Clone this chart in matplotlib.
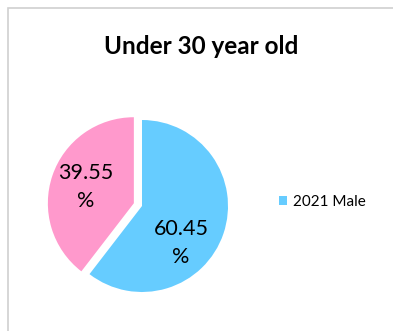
import matplotlib
matplotlib.use("Agg")
import matplotlib.pyplot as plt
from matplotlib.patches import Rectangle

# data
categories = ["2021 Male", "2021 Female"]
shares = [60.45, 39.55]
colors = ["#66CCFF", "#FF99CC"]
explode = [0, 0.1]
title = "Under 30 year old"
legend_shown = ["2021 Male"]

plt.rcParams["font.family"] = ["Lato", "DejaVu Sans"]

W, H = 393, 331
fig = plt.figure(figsize=(W / 100, H / 100), dpi=100)
fig.patch.set_facecolor("white")

# chart frame, clipped at the right and bottom like the screenshot
fig.patches.append(Rectangle((8 / W, -0.1), 1.2, (H - 8) / H + 0.1,
                             transform=fig.transFigure, fill=False,
                             edgecolor="#d0d0d0", linewidth=1.2))

fig.text(201 / W, 1 - 46 / H, title, ha="center", va="center",
         fontsize=17.5, fontweight="bold", color="black")

# square axes centred on the pie centre
cx, cy, r = 142, 206, 86
half = r * 1.2
ax = fig.add_axes([(cx - half) / W, (H - cy - half) / H, 2 * half / W, 2 * half / H])
wedges, _ = ax.pie(shares, colors=colors, explode=explode, startangle=90,
                   counterclock=False, radius=1,
                   wedgeprops=dict(linewidth=0))
ax.set_xlim(-1.2, 1.2)
ax.set_ylim(-1.2, 1.2)
ax.set_aspect("equal")
ax.axis("off")

label_pos = [(0.455, -0.43), (-0.65, 0.22)]
for v, (x, y) in zip(shares, label_pos):
    ax.text(x, y, f"{v:.2f}\n%", ha="center", va="center", fontsize=15.5,
            color="black", linespacing=1.5)

leg = fig.legend([wedges[0]], legend_shown, loc="center left",
                 bbox_to_anchor=(265 / W, 1 - 202 / H), frameon=False,
                 handlelength=0.55, handleheight=0.55, handletextpad=0.4,
                 fontsize=11)

fig.savefig("out.png", dpi=100)
